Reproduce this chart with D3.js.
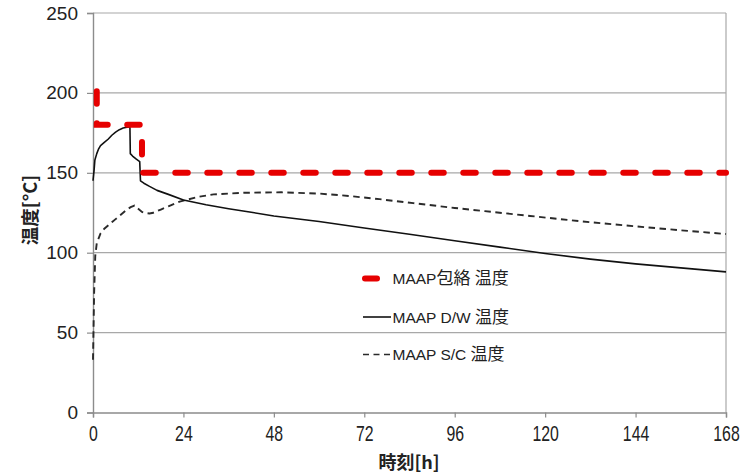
<!DOCTYPE html>
<html>
<head>
<meta charset="utf-8">
<script src="https://cdn.jsdelivr.net/npm/d3@7/dist/d3.min.js"></script>
<style>
  html, body { margin: 0; padding: 0; background: #fff; }
  svg { display: block; }
</style>
</head>
<body>
<svg id="chart" width="754" height="473"></svg>
<script>
// Time axis ticks (hours) and temperature ticks (°C)
const xTicks = [0, 24, 48, 72, 96, 120, 144, 168];
const yTicks = [0, 50, 100, 150, 200, 250];

// MAAP envelope temperature (step profile)
const envelopeTime = [1, 1, 13, 13, 168];
const envelopeTemp = [201, 180, 180, 150, 150];

// MAAP D/W temperature
const dwTime = [0, 0.3, 0.5, 1, 1.5, 2, 3, 4, 5, 6, 7, 8, 9, 9.8, 9.9, 10.5, 11.5, 12.4, 12.6, 13.5, 15, 17, 20, 24, 30, 36, 42, 48, 60, 72, 84, 96, 108, 120, 132, 144, 156, 168];
const dwTemp = [145, 152, 158, 162, 165, 167, 169, 171, 173.5, 175.5, 177, 178, 178.5, 178.8, 162, 160.5, 158.5, 157, 145, 143.5, 141.5, 139, 136.5, 133, 130, 127.5, 125.3, 123, 119.5, 115.5, 111.5, 107.5, 103.5, 99.5, 96, 93, 90.5, 88];

// MAAP S/C temperature
const scTime = [0, 0.3, 0.6, 1, 2, 3, 4, 5, 6, 7, 8, 9, 10, 11, 12, 13, 14, 15, 16, 17, 18, 20, 23, 28, 32, 40, 50, 60, 68, 76, 85, 96, 104, 116, 130, 144, 156, 168];
const scTemp = [33, 75, 98, 106, 112, 115, 117, 119, 121, 123, 125, 127, 128.5, 129.5, 127.5, 125.5, 124.8, 124.5, 125, 126, 127, 129, 132, 135, 136.5, 137.5, 137.8, 137, 135.5, 133.5, 131, 128, 126, 123, 119.5, 116.5, 114, 111.7];

// Legend entries
const legendLabels = ["MAAP包絡 温度", "MAAP D/W 温度", "MAAP S/C 温度"];
const xTitle = "時刻[h]";
const yTitle = "温度[°C]";

const svg = d3.select("#chart");
const plotLeft = 93, plotRight = 726, plotTop = 13, plotBottom = 412.5;

const x = d3.scaleLinear().domain([0, 168]).range([plotLeft, plotRight]);
const y = d3.scaleLinear().domain([0, 250]).range([plotBottom, plotTop]);

const gridColor = "#a8a8a8";
const axisColor = "#8c8c8c";
const latinFont = "'Liberation Sans', Arial, 'Noto Sans CJK JP', sans-serif";
const cjkFont = "'Noto Sans CJK JP', 'Liberation Sans', sans-serif";

// Horizontal gridlines
svg.append("g")
  .selectAll("line")
  .data(yTicks.filter(d => d > 0))
  .join("line")
  .attr("x1", plotLeft).attr("x2", plotRight)
  .attr("y1", d => y(d)).attr("y2", d => y(d))
  .attr("stroke", gridColor).attr("stroke-width", 1.2);

// Right border of the plot area
svg.append("line")
  .attr("x1", plotRight).attr("x2", plotRight)
  .attr("y1", y(250)).attr("y2", y(0))
  .attr("stroke", gridColor).attr("stroke-width", 1.2);

// Y axis
const yAxis = svg.append("g")
  .attr("transform", `translate(${plotLeft},0)`)
  .call(d3.axisLeft(y).tickValues(yTicks).tickSize(6).tickPadding(9).tickFormat(d3.format("d")));
yAxis.select(".domain").attr("stroke", axisColor).attr("stroke-width", 1.4);
yAxis.selectAll(".tick line").attr("stroke", axisColor).attr("stroke-width", 1.2);
yAxis.selectAll(".tick text")
  .attr("font-family", latinFont).attr("font-size", 19).attr("fill", "#222");

// X axis: narrow, tall digits
const xAxis = svg.append("g")
  .attr("transform", `translate(0,${plotBottom})`)
  .call(d3.axisBottom(x).tickValues(xTicks).tickSize(5).tickPadding(8).tickFormat(d3.format("d")));
xAxis.select(".domain").attr("stroke", axisColor).attr("stroke-width", 1.4);
xAxis.selectAll(".tick line").attr("stroke", axisColor).attr("stroke-width", 1.2);
xAxis.selectAll(".tick text")
  .attr("font-family", latinFont)
  .attr("font-size", 22).attr("fill", "#222")
  .attr("transform", "scale(0.72,1)");

// Axis titles
svg.append("text")
  .attr("x", 409).attr("y", 469)
  .attr("text-anchor", "middle")
  .attr("font-family", cjkFont).attr("font-weight", "bold").attr("font-size", 18)
  .attr("fill", "#222")
  .text(xTitle);

svg.append("text")
  .attr("transform", "translate(37,210) rotate(-90)")
  .attr("text-anchor", "middle")
  .attr("font-family", cjkFont).attr("font-weight", "bold").attr("font-size", 18.5)
  .attr("fill", "#222")
  .text(yTitle);

const line = d3.line().x(d => x(d[0])).y(d => y(d[1]));

// S/C temperature (dashed)
svg.append("path")
  .datum(d3.zip(scTime, scTemp))
  .attr("d", line)
  .attr("fill", "none").attr("stroke", "#2a2a2a")
  .attr("stroke-width", 1.9).attr("stroke-dasharray", "6.5,4.5");

// D/W temperature (solid)
svg.append("path")
  .datum(d3.zip(dwTime, dwTemp))
  .attr("d", line)
  .attr("fill", "none").attr("stroke", "#111")
  .attr("stroke-width", 1.6).attr("stroke-linejoin", "round");

// Envelope temperature (thick red dashes)
svg.append("path")
  .datum(d3.zip(envelopeTime, envelopeTemp))
  .attr("d", line)
  .attr("fill", "none").attr("stroke", "#e60000")
  .attr("stroke-width", 6).attr("stroke-linecap", "round")
  .attr("stroke-dasharray", "12.5,19.5");

// Legend
const legend = svg.append("g");
const rows = [278.5, 317, 354.5];
legend.append("line")
  .attr("x1", 365).attr("x2", 377).attr("y1", rows[0]).attr("y2", rows[0])
  .attr("stroke", "#e60000").attr("stroke-width", 6).attr("stroke-linecap", "round");
legend.append("line")
  .attr("x1", 363).attr("x2", 391).attr("y1", rows[1]).attr("y2", rows[1])
  .attr("stroke", "#111").attr("stroke-width", 1.6);
legend.append("line")
  .attr("x1", 363).attr("x2", 391).attr("y1", rows[2]).attr("y2", rows[2])
  .attr("stroke", "#2a2a2a").attr("stroke-width", 1.6).attr("stroke-dasharray", "6,4.5");

// Latin runs and CJK runs are set at slightly different sizes
const runs = s => s.match(/[\u3000-\u9fff]+|[^\u3000-\u9fff]+/g);
legend.selectAll("text")
  .data(legendLabels)
  .join("text")
  .attr("x", 392.5)
  .attr("y", (d, i) => rows[i])
  .attr("dy", "0.36em")
  .attr("fill", "#222")
  .each(function(d) {
    const t = d3.select(this);
    runs(d).forEach(r => {
      const cjk = /[\u3000-\u9fff]/.test(r);
      t.append("tspan")
        .attr("font-family", cjk ? cjkFont : latinFont)
        .attr("font-size", cjk ? 17 : 15.5)
        .text(r);
    });
  });
</script>
</body>
</html>
